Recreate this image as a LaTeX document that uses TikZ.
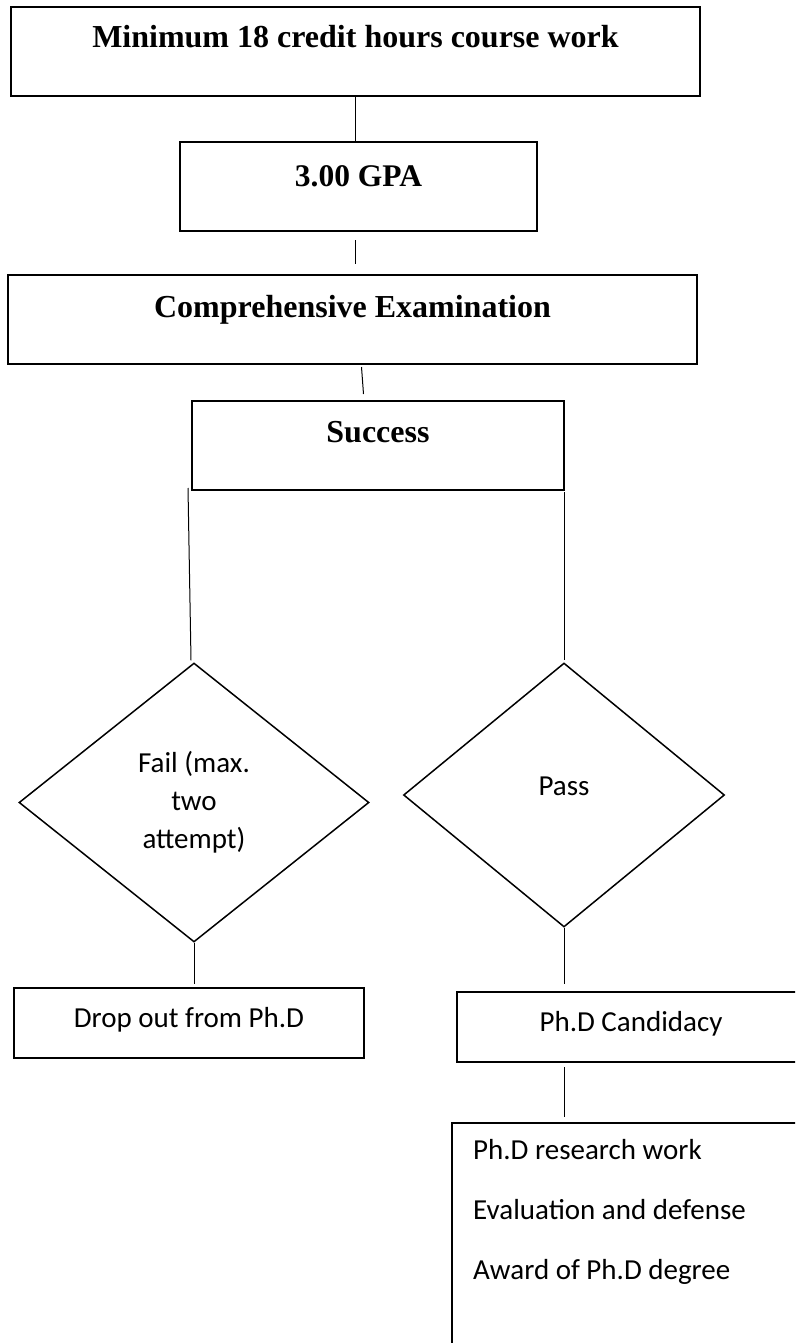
\documentclass[tikz,border=0pt]{standalone}
\usepackage{fontspec}
\setmainfont{Liberation Serif}
\newfontfamily\calibri{Carlito}
\usetikzlibrary{shapes.geometric}

\tikzstyle{block}=[shape=rectangle,draw=black,line width=2pt,inner sep=0pt,anchor=north,font=\bfseries\fontsize{32}{38}\selectfont]
\tikzstyle{plainblock}=[block,font=\calibri\fontsize{29}{38}\selectfont]
\tikzstyle{choice}=[shape=diamond,draw=black,line width=1.5pt,inner sep=0pt,align=center,font=\calibri\fontsize{29}{38}\selectfont]
\tikzstyle{item}=[anchor=base west,inner sep=0pt,font=\calibri\fontsize{29}{38}\selectfont]
\tikzstyle{link}=[line width=1pt]

\begin{document}
\begin{tikzpicture}[x=1pt,y=-1pt]
\useasboundingbox (0,0) rectangle (795,1343);
\clip (0,0) rectangle (795,1343);
% course work column
\node[block,minimum width=689pt,text height=41pt,text depth=48pt] (course) at (355.5,6) {Minimum 18 credit hours course work};
\node[block,minimum width=357pt,text height=45pt,text depth=44pt,font=\bfseries\fontsize{31.5}{37}\selectfont] (gpa) at (358.5,141) {3.00 GPA};
\node[block,minimum width=689pt,text height=42pt,text depth=47pt] (exam) at (352.5,274) {Comprehensive Examination};
\node[block,minimum width=372pt,text height=41pt,text depth=48pt] (success) at (378,400) {Success};
\draw[link] (course.south) -- (course.south |- gpa.north);
\draw[link,shorten <=8pt,shorten >=10pt] (course.south |- gpa.south) -- (course.south |- exam.north);
\draw[link] ([xshift=9pt,yshift=-2pt]exam.south) -- ([xshift=-14.5pt,yshift=6pt]success.north);
% two outcomes
\node[choice,minimum width=350pt,minimum height=279pt] (fail) at (194,802.5) {Fail (max.\\two\\attempt)};
\node[choice,minimum width=321pt,minimum height=264pt,text height=20pt,text depth=20pt] (pass) at (564,795) {Pass};
\draw[link] ([xshift=-3pt,yshift=3pt]success.south west) -- ([xshift=-3pt,yshift=2pt]fail.north);
\draw[link] ([xshift=-1pt,yshift=-1pt]success.south east) -- ([yshift=2pt]pass.north);
% fail branch
\node[plainblock,minimum width=350pt,text height=39pt,text depth=31pt] (drop) at (189,987) {Drop out from Ph.D};
\draw[link,shorten >=3pt] (fail.south) -- (fail.south |- drop.north);
% pass branch
\node[plainblock,minimum width=348pt,text height=39pt,text depth=31pt] (cand) at (631,991) {Ph.D Candidacy};
\draw[link,shorten >=7pt] (pass.south) -- (pass.south |- cand.north);
\node[plainblock,anchor=north west,minimum width=360pt,minimum height=240pt] (work) at (451,1122) {};
\node[item] (research) at (473,1159) {Ph.D research work};
\node[item] (defense) at (473,1219) {Evaluation and defense};
\node[item] (award) at (473,1279) {Award of Ph.D degree};
\draw[link,shorten <=4pt,shorten >=5pt] (pass.south |- cand.south) -- (pass.south |- work.north);
\end{tikzpicture}
\end{document}
